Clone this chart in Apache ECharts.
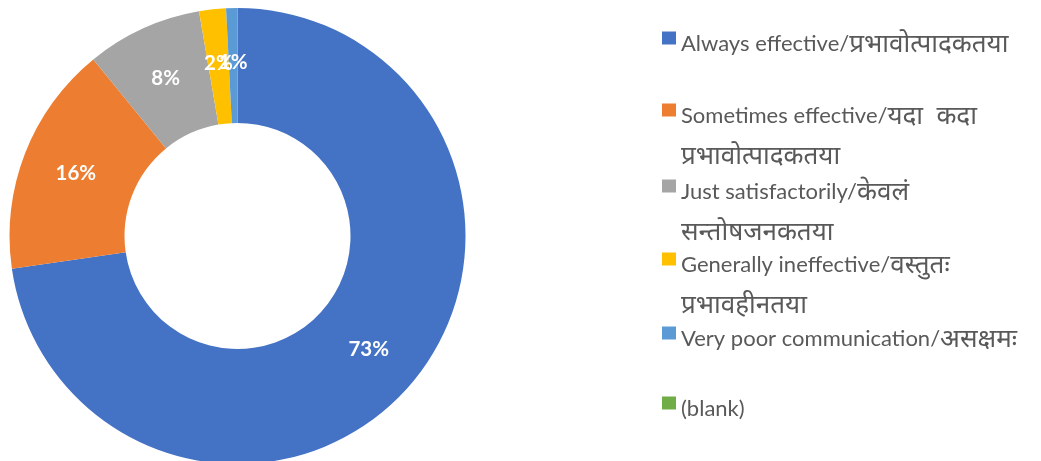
<!DOCTYPE html>
<html>
<head>
<meta charset="utf-8">
<script src="https://cdn.jsdelivr.net/npm/echarts@6/dist/echarts.min.js"></script>
<style>
html,body{margin:0;padding:0;background:#fff;}
#chart{width:1041px;height:461px;}
</style>
</head>
<body>
<div id="chart"></div>
<script>
// ---- data ----
const categories = [
  'Always effective/प्रभावोत्पादकतया',
  'Sometimes effective/यदा  कदा प्रभावोत्पादकतया',
  'Just satisfactorily/केवलं सन्तोषजनकतया',
  'Generally ineffective/वस्तुतः प्रभावहीनतया',
  'Very poor communication/असक्षमः',
  '(blank)'
];
const values = [72.7, 16.4, 8.2, 1.9, 0.8, 0];
const colors = ['#4472C4', '#ED7D31', '#A5A5A5', '#FFC000', '#5B9BD5', '#70AD47'];

// legend text as wrapped in the reference: [latin part, devanagari on line 1, devanagari on line 2]
const legendLines = [
  ['Always effective/', 'प्रभावोत्पादकतया', ''],
  ['Sometimes effective/', 'यदा  कदा', 'प्रभावोत्पादकतया'],
  ['Just satisfactorily/', 'केवलं', 'सन्तोषजनकतया'],
  ['Generally ineffective/', 'वस्तुतः', 'प्रभावहीनतया'],
  ['Very poor communication/', 'असक्षमः', ''],
  ['(blank)', '', '']
];
const iconCenters = [38, 110, 186, 259, 333, 403];

const FONT = "Lato, 'Noto Sans', 'Noto Sans Devanagari', sans-serif";
const LH = 40;
const TEXT_COLOR = '#595959';
const legends = categories.map((name, i) => {
  const [lat, dev1, dev2] = legendLines[i];
  const twoLine = dev2 !== '';
  const nLines = twoLine ? 2 : 1;
  const spacer = twoLine ? LH + 11 : 11;
  let txt = '{s| }\n{a|' + lat + '}' + (dev1 ? '{d|' + dev1 + '}' : '');
  if (twoLine) txt += '\n{d|' + dev2 + '}';
  return {
    orient: 'vertical',
    left: 662,
    top: iconCenters[i] - (1 + nLines * LH) / 2,
    padding: 0,
    icon: 'rect',
    itemWidth: 14,
    itemHeight: 13,
    selectedMode: false,
    data: [name],
    formatter: () => txt,
    textStyle: {
      fontFamily: FONT,
      color: TEXT_COLOR,
      rich: {
        s: {fontSize: 1, lineHeight: spacer, color: TEXT_COLOR},
        a: {fontFamily: FONT, fontSize: 22, lineHeight: LH, color: TEXT_COLOR},
        d: {fontFamily: FONT, fontSize: 26, lineHeight: LH, color: TEXT_COLOR}
      }
    }
  };
});

const chart = echarts.init(document.getElementById('chart'), null, {renderer: 'canvas'});
chart.setOption({
  animation: false,
  color: colors,
  legend: legends,
  series: [{
    type: 'pie',
    center: [237.5, 236],
    radius: [113, 228],
    startAngle: 90,
    clockwise: true,
    avoidLabelOverlap: false,
    labelLayout: {hideOverlap: false},
    itemStyle: {borderWidth: 0},
    label: {
      show: true,
      position: 'inside',
      color: '#fff',
      fontFamily: FONT,
      fontWeight: 'bold',
      fontSize: 20.5,
      formatter: p => p.value > 0 ? Math.round(p.percent) + '%' : ''
    },
    labelLine: {show: false},
    emphasis: {disabled: true},
    data: categories.map((n, i) => ({name: n, value: values[i]}))
  }]
});
</script>
</body>
</html>
